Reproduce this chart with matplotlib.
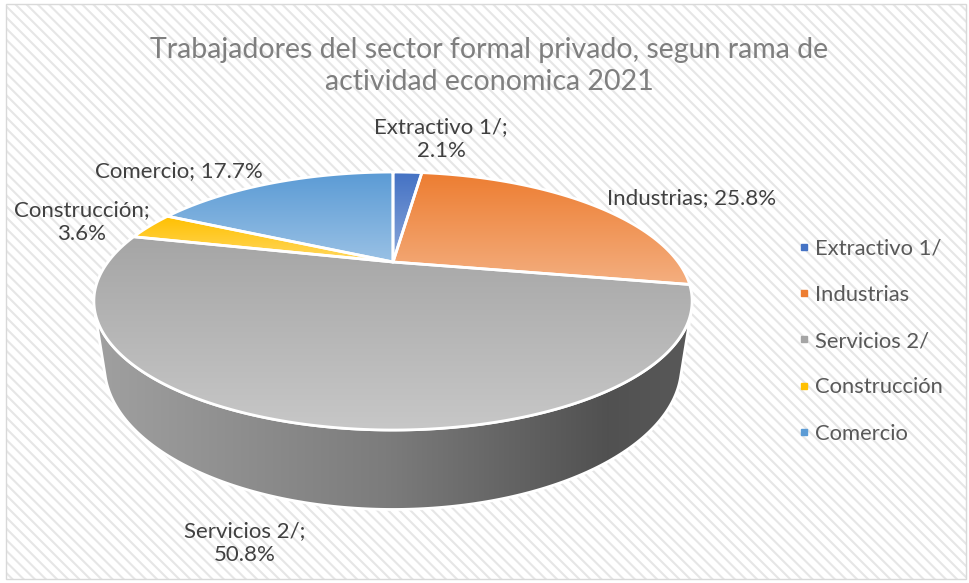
import numpy as np
import matplotlib
matplotlib.use("Agg")
import matplotlib.pyplot as plt
from matplotlib.patches import Polygon, Rectangle
from matplotlib.colors import to_rgb
from matplotlib.lines import Line2D

# ---------------- data ----------------
categories = ["Extractivo 1/", "Industrias", "Servicios 2/", "Construcción", "Comercio"]
shares = [2.1, 25.8, 50.8, 3.6, 17.7]
colors = ["#4472C4", "#ED7D31", "#A5A5A5", "#FFC000", "#5B9BD5"]
title = "Trabajadores del sector formal privado, segun rama de\nactividad economica 2021"

# label anchor positions (pixel space) and alignment
label_pos = [(441, 139, "center"), (607, 198, "left"), (245, 543, "center"),
             (82, 222, "center"), (179, 171, "center")]
label_text = ["Extractivo 1/;\n2.1%", "Industrias; 25.8%", "Servicios 2/;\n50.8%",
              "Construcción;\n3.6%", "Comercio; 17.7%"]

FONT = ["Lato", "DejaVu Sans"]
plt.rcParams["font.family"] = FONT
plt.rcParams["hatch.linewidth"] = 1.5

W, H = 970, 583
fig = plt.figure(figsize=(9.7, 5.83), dpi=100)
fig.patch.set_facecolor("white")
ax = fig.add_axes([0, 0, 1, 1])
ax.set_xlim(0, W)
ax.set_ylim(H, 0)
ax.axis("off")

# background with diagonal stripes + border
bg = Rectangle((6, 4), 960, 575, facecolor="white", edgecolor="#E6E6E6",
               hatch="\\\\\\", linewidth=0, zorder=0)
ax.add_patch(bg)
ax.add_patch(Rectangle((6, 4), 960, 575, facecolor="none", edgecolor="#D9D9D9",
                       linewidth=1.0, zorder=10))

# ---------------- 3D projection ----------------
cx, cy = 393.0, 262.0
f = 859.0
D = 3.013
s = 0.411
c = np.sqrt(1 - s * s)
h = 0.245


def proj(theta_deg, z):
    t = np.radians(theta_deg)
    x = np.cos(t)
    y = np.sin(t)
    vy = y + D * c
    vz = z - D * s
    depth = vy * c - vz * s
    Y = vy * s + vz * c
    return cx + f * x / depth, cy - f * Y / depth


def lighten(col, a):
    r = np.array(to_rgb(col))
    return r + (1 - r) * a


total = float(sum(shares))
cum = np.concatenate([[0.0], np.cumsum(shares)]) / total
t0 = 90 - 360 * cum[:-1]
t1 = 90 - 360 * cum[1:]

k = 1.0 / (D * c)
a_vis = np.degrees(np.arcsin(k))
vis_lo, vis_hi = -180 + a_vis, -a_vis

# side walls
for i, col in enumerate(colors):
    for shift in (-360, 0, 360):
        lo = max(t1[i] + shift, vis_lo)
        hi = min(t0[i] + shift, vis_hi)
        if hi <= lo:
            continue
        th = np.linspace(hi, lo, 200)
        xt, yt = proj(th, 0.0)
        xb, yb = proj(th[::-1], -h)
        pts = np.column_stack([np.concatenate([xt, xb]), np.concatenate([yt, yb])])
        poly = Polygon(pts, closed=True, facecolor="none", edgecolor="white",
                       linewidth=2.0, zorder=3)
        ax.add_patch(poly)
        x0, x1 = pts[:, 0].min(), pts[:, 0].max()
        y0, y1 = pts[:, 1].min(), pts[:, 1].max()
        base = np.array(to_rgb(col))
        stops = np.array([0.0, 0.49, 0.86, 1.0])
        facs = np.array([0.97, 0.75, 0.49, 0.54])
        u = np.linspace(0, 1, 300)
        fac = np.interp(u, stops, facs)
        grad = (base[None, :] * fac[:, None])[None, :, :]
        im = ax.imshow(grad, extent=(x0, x1, y1, y0), origin="upper",
                       aspect="auto", interpolation="bilinear", zorder=2)
        im.set_clip_path(poly)

# top faces
for i, col in enumerate(colors):
    th = np.linspace(t0[i], t1[i], 200)
    xt, yt = proj(th, 0.0)
    pts = np.column_stack([np.concatenate([[cx], xt]), np.concatenate([[cy], yt])])
    poly = Polygon(pts, closed=True, facecolor="none", edgecolor="white",
                   linewidth=2.0, joinstyle="round", zorder=5)
    ax.add_patch(poly)
    x0, x1 = pts[:, 0].min(), pts[:, 0].max()
    y0, y1 = pts[:, 1].min(), pts[:, 1].max()
    u = np.linspace(0, 1, 300)
    c_top = np.array(to_rgb(col))
    c_bot = lighten(col, 0.38)
    grad = (c_top[None, :] * (1 - u[:, None]) + c_bot[None, :] * u[:, None])[:, None, :]
    im = ax.imshow(grad, extent=(x0, x1, y1, y0), origin="upper",
                   aspect="auto", interpolation="bilinear", zorder=4)
    im.set_clip_path(poly)

# data labels
for (lx, ly, ha), txt in zip(label_pos, label_text):
    ax.text(lx, ly, txt, ha=ha, va="center", fontsize=16, color="#404040",
            linespacing=1.2, zorder=8)

# title
ax.text(489, 66, title, ha="center", va="center", fontsize=20.5, color="#7F7F7F",
        linespacing=1.25, zorder=8)

# legend
handles = [Line2D([], [], marker="s", linestyle="", color=col, markersize=4.5)
           for col in colors]
leg = ax.legend(handles, categories, loc="center left", bbox_to_anchor=(786, 341),
                bbox_transform=ax.transData, frameon=False, fontsize=15.8,
                handlelength=0.6, handletextpad=0.2, labelspacing=1.2,
                borderpad=0)
for t in leg.get_texts():
    t.set_color("#595959")

ax.set_xlim(0, W)
ax.set_ylim(H, 0)
fig.savefig("out.png", dpi=100, facecolor="white")
